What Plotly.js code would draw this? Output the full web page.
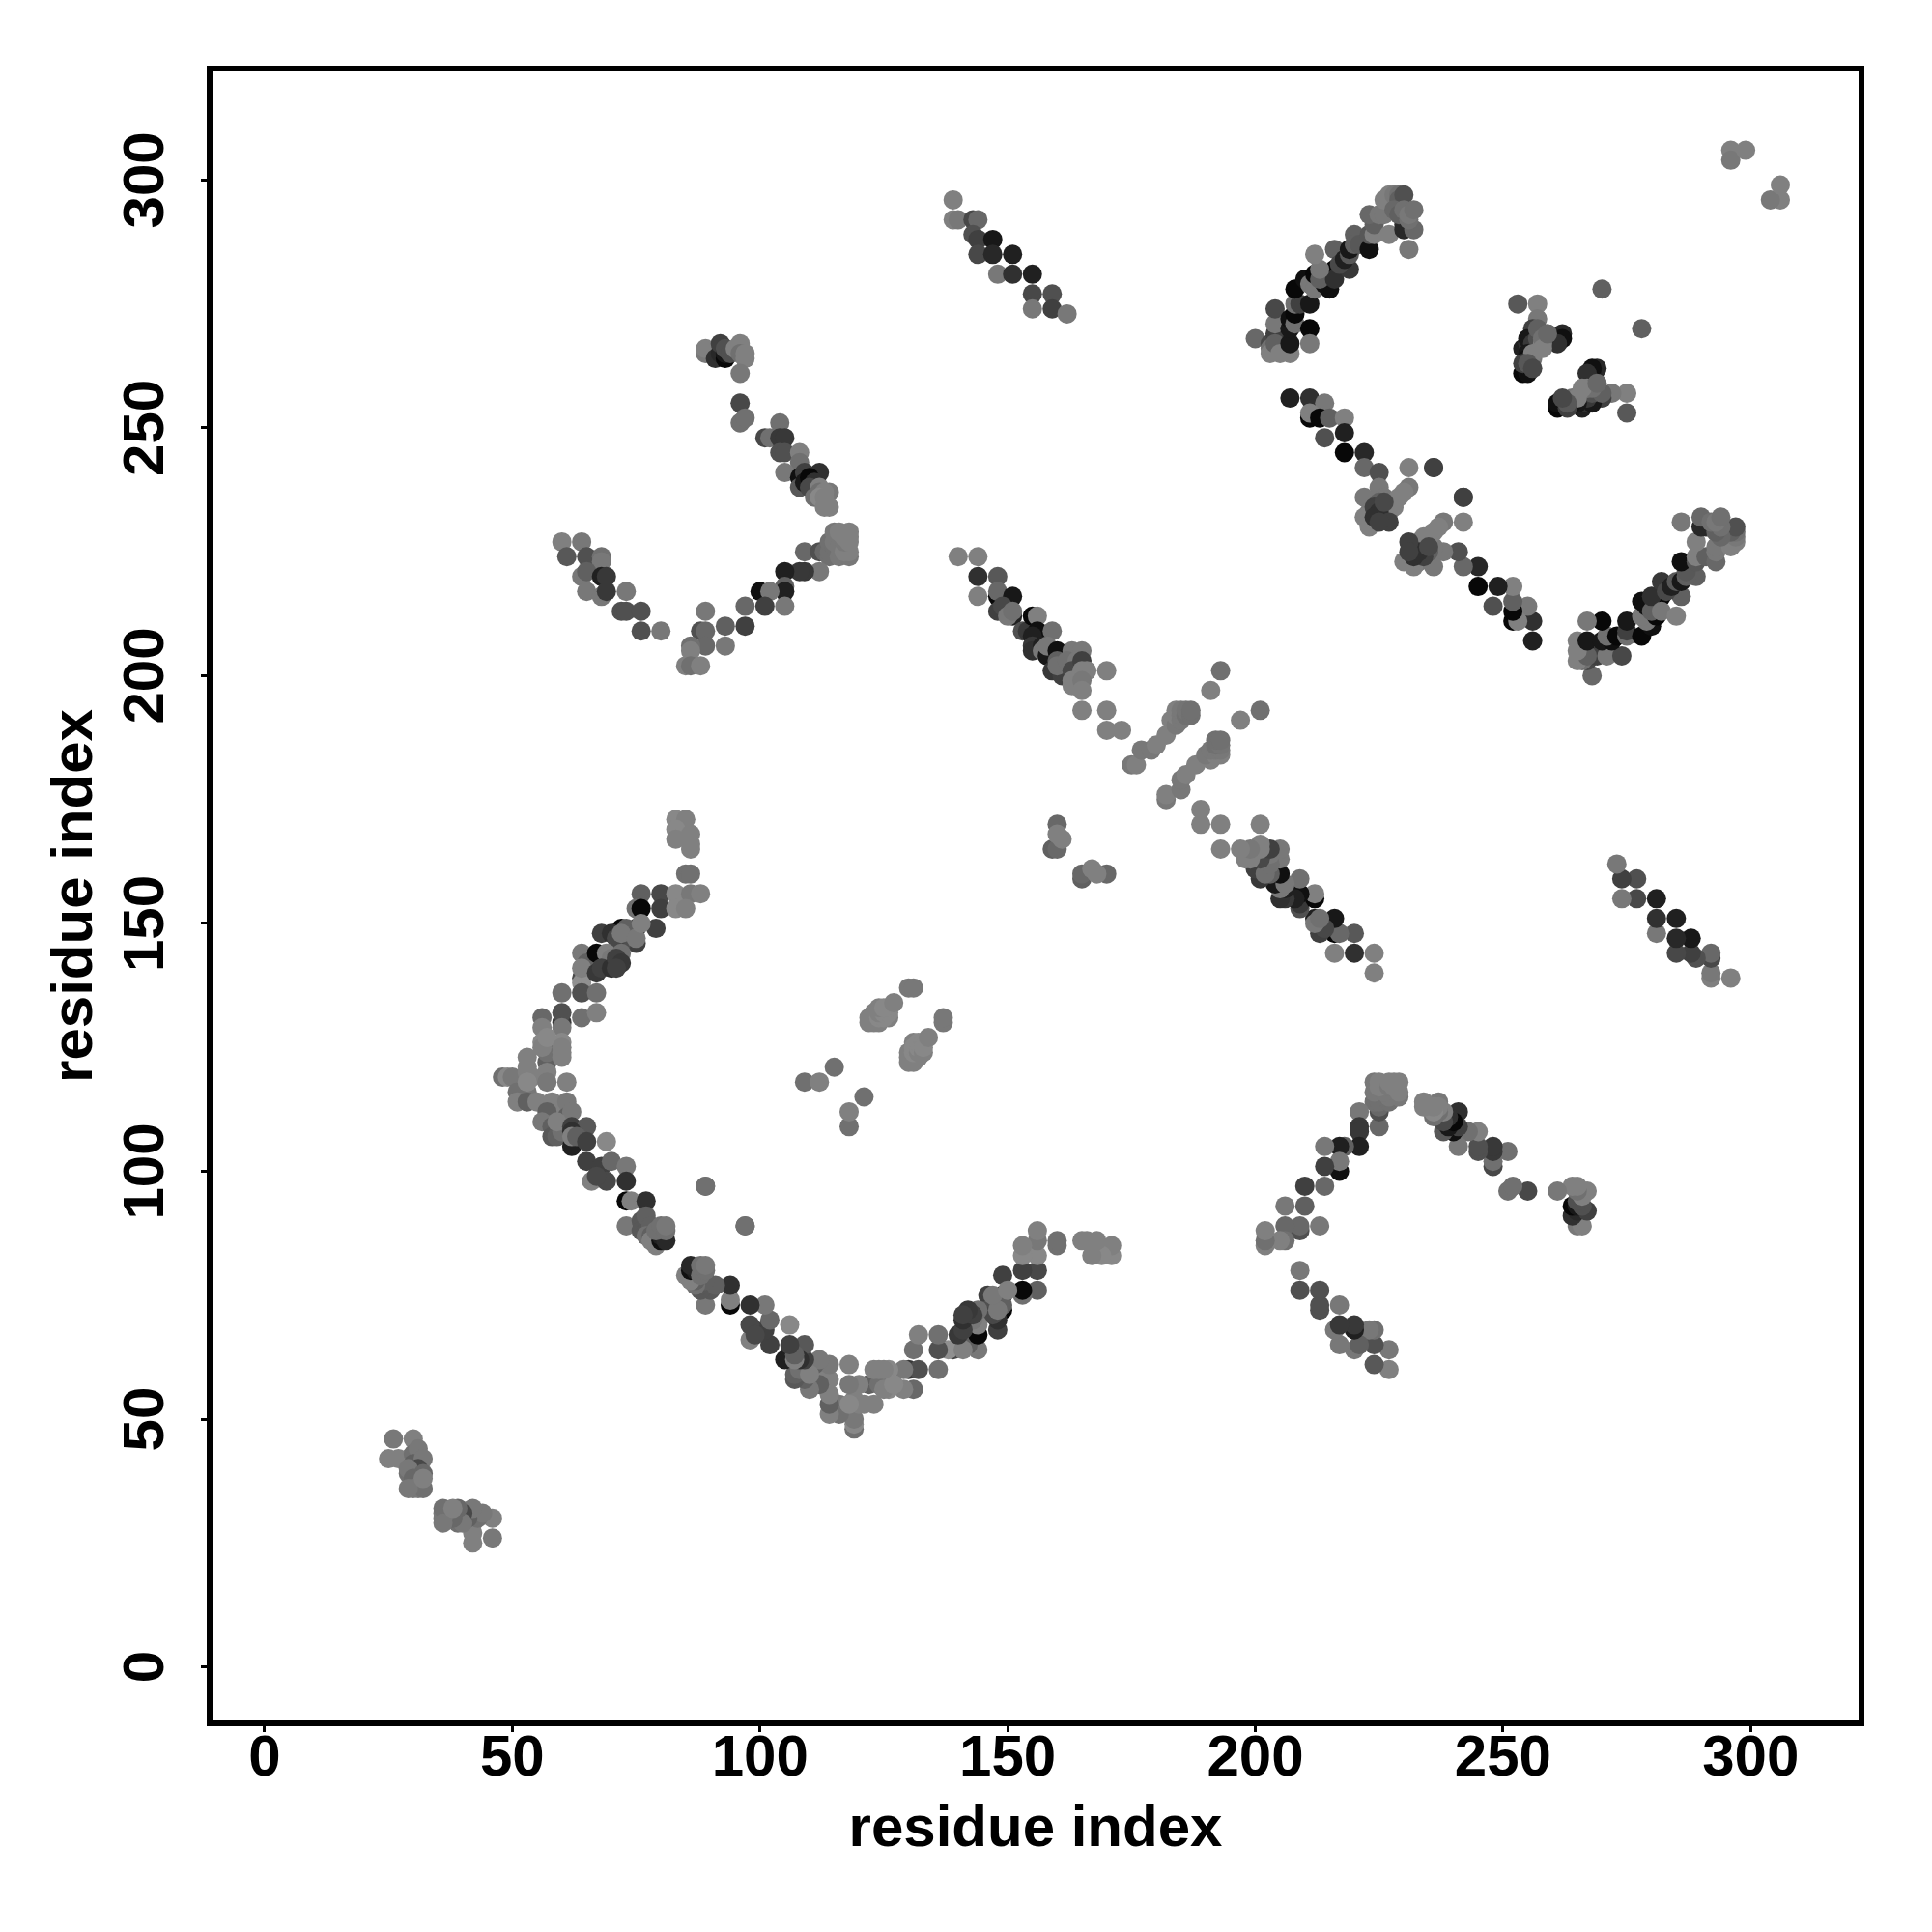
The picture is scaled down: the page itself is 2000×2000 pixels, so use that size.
<!DOCTYPE html>
<html><head><meta charset="utf-8">
<script src="https://cdn.plot.ly/plotly-3.0.1.min.js"></script>
<style>html,body{margin:0;padding:0;background:#fff}</style></head>
<body><div id="chart" style="width:2000px;height:2000px"></div>
<script>
// Each contact: [residue i, residue j, grey level]. The map is symmetric, so one half is read and mirrored.
const leftArm=[[83,171,136],[85,171,128],[83,169,136],[83,167,128],[86,168,128],[86,166,128],[86,165,128],[85,160,112],[86,160,112],
[76,156,96],[80,156,72],[83,156,136],[86,156,120],[88,156,128],[75,153,112],[76,153,8],[80,153,64],[83,153,136],[85,153,128],
[68,148,64],[72,149,8],[75,149,8],[79,149,64],[75,146,64],[72,146,80],[70,148,48],[71,147,72],[74,148,96],[73,149,96],[72,148,120],[75,147,120],[76,150,128],
[64,144,120],[65,142,96],[67,144,8],[69,144,128],[70,143,120],[72,144,112],[64,139,72],[64,138,144],[64,141,128],[67,140,56],[68,141,64],[70,141,48],[71,143,64],[72,142,56],[71,141,64],
[60,136,112],[64,136,80],[67,136,112],[56,131,104],[60,130,56],[60,132,80],[64,131,112],[67,132,128],
[56,129,128],[60,129,120],[57,122,96],[57,124,112],[56,126,136],[60,126,136],[56,125,128],[57,127,136],[60,125,128],[60,124,128],[60,123,128],[53,123,128],
[48,119,112],[49,119,136],[50,119,120],[52,116,120],[53,121,128],[53,116,120],[51,116,112],[54,119,128],[53,120,128],[53,118,136],[57,120,128],[57,118,120],[61,118,128],
[51,114,128],[53,114,96],[55,114,128],[58,114,128],[60,113,128],[61,114,120],[57,112,96],[61,111,96],[62,112,120],[56,110,120],[58,109,96],[58,107,88],[59,107,96],[60,108,112],[59,110,128],[62,109,64],[65,109,88],
[62,105,32],[62,108,48],[62,107,128],[63,107,96],[65,106,64],[69,106,136],[65,102,64],[68,101,64],[70,102,104],[73,101,120],[66,98,128],[69,98,72],[67,99,72],[73,98,48],
[73,94,8],[74,94,128],[77,94,48],[73,89,120],[76,90,88],[76,88,88],[77,88,88],[77,91,96],[78,89,96],[77,87,112],[78,87,96],[79,85,128],[78,86,128],[80,86,16],[80,87,32],[81,86,40],[79,88,112],[80,89,112],[81,88,112],[81,89,120],
[89,97,112],[97,89,112]];
const smallCluster=[[26,46,120],[30,46,128],[25,42,128],[27,42,128],[29,42,128],[30,43,112],[31,44,120],[30,41,96],[32,42,120],[29,39,112],[31,40,72],[29,40,120],[32,39,104],[30,38,104],[30,36,120],[31,36,120],[32,36,112],[29,36,120],[32,38,128]];
const centerBlob=[[109,118,112],[112,118,128],[115,121,112],[122,130,128],[122,131,128],[123,130,128],[123,131,128],[124,130,128],[126,131,128],[123,132,128],[124,131,136],[125,131,136],[124,132,128],[125,132,136],[126,132,136],[124,133,128],[126,133,136],[125,133,136],[127,134,128],[130,137,120],[131,137,120]];
const upperStrand=[[89,265,120],[89,266,128],[91,264,48],[92,265,40],[93,264,8],[92,267,64],[93,265,24],[93,266,80],[94,265,80],[95,266,128],[96,267,128],[96,265,112],[97,264,128],[97,265,128],[96,261,120],[96,255,72],[96,251,112],[97,252,112],
[101,248,72],[102,248,112],[104,251,112],[104,248,56],[105,248,56],[104,245,80],[105,245,80],[108,245,128],[108,243,112],
[105,241,120],[108,240,16],[109,241,64],[112,241,48],[108,238,88],[109,239,24],[110,240,8],[111,239,48],[110,238,72],[112,238,128],[112,237,112],[111,236,112],[114,237,120],[113,237,128],[112,236,136],[113,236,128],[113,234,128],[114,234,128]];
const upperApex=[[109,225,104],[112,225,80],[113,225,104],[114,224,112],[114,225,112],[114,227,112],[115,229,120],[115,226,112],[115,227,120],[116,224,120],[116,226,120],[118,224,120],[117,225,128],[118,225,128],[117,227,120],[118,227,128],[117,228,128],[118,228,128],[116,229,128],[118,229,128],
[112,221,120],[109,221,56],[108,221,56],[105,221,32],[105,218,96],[105,217,32],[105,214,120],[100,217,16],[102,217,120],[101,214,64],
[97,214,104],[97,210,64],[93,210,96],[93,206,120],[89,213,120],[88,209,80],[89,209,104],[89,206,104],[86,206,112],[86,205,128],[85,202,128],[86,202,112],[88,202,128]];
const upperLeftWing=[[60,227,128],[64,227,120],[61,224,88],[65,224,80],[68,224,112],[68,223,120],[64,220,120],[65,221,96],[68,220,32],[69,220,56],
[65,217,120],[68,216,120],[69,217,56],[73,217,120],[72,213,80],[73,213,80],[76,213,80],[76,209,80],[80,209,120]];
const diagonalBand=[[140,224,128],[144,224,128],[144,220,48],[148,220,88],[144,216,128],[148,216,8],[148,217,104],[151,216,24],[148,213,64],[149,214,72],[151,212,32],[150,212,120],[151,213,112],
[153,209,80],[154,209,56],[155,212,8],[156,212,128],[156,209,16],[155,208,32],[155,206,56],[159,209,112],[155,205,48],[157,206,32],[157,205,120],[158,204,24],[158,206,120],[160,205,16],[159,201,56],[161,200,64],[160,203,96],[160,202,112],
[163,205,120],[165,205,120],[162,203,112],[164,203,120],[163,201,72],[165,203,64],[165,201,128],[166,201,128],[170,201,128],[163,199,128],[163,198,128],[165,199,120],[165,197,128],
[165,193,128],[170,193,128],[170,189,128],[173,189,128],[175,182,120],[176,182,128],[177,185,120],[179,185,120],[180,186,128],[182,188,128],
[183,191,128],[184,190,120],[184,192,128],[184,193,128],[185,191,120],[185,192,120],[185,193,120],[186,192,112],[186,193,116],[187,192,112],[187,193,112],[191,197,128],[193,201,112],[160,170,104],[159,165,96],[160,165,104],[160,168,128],[161,167,128]];
const upperLine=[[139,296,128],[139,292,128],[140,292,120],[143,292,72],[144,292,104],[143,289,80],[144,288,64],[144,285,72],[147,288,24],[147,285,40],[151,285,32],
[148,281,120],[151,281,48],[155,281,32],[155,277,72],[159,277,80],[155,274,120],[159,274,64],[162,273,120]];
const topArm=[[200,268,104],[203,267,72],[203,266,112],[203,265,128],[204,269,64],[204,267,96],[205,265,128],[204,271,120],[204,274,72],[207,265,128],[207,267,24],[207,270,24],[207,272,16],[208,271,112],[211,270,8],[211,267,120],
[208,273,8],[208,275,112],[209,275,64],[211,275,24],[208,278,8],[210,280,16],[211,279,120],[212,278,120],[215,278,16],[214,279,16],[212,281,8],[213,280,96],[216,282,8],[216,280,48],[219,282,56],[213,282,120],[212,285,128],
[216,286,96],[217,283,72],[218,284,32],[219,285,88],[219,286,24],[220,289,96],[220,287,96],[221,287,88],[223,286,16],[223,289,88],[224,289,128],[224,291,96],[227,289,128],[223,293,104],[225,293,120],[226,293,120],
[226,296,128],[227,297,128],[228,297,120],[229,297,112],[229,296,96],[230,297,80],[230,291,48],[230,290,40],[228,294,104],[229,293,96],[232,290,104],[230,294,112],[231,292,112],[231,293,120],[232,294,112],[231,286,120]];
const midLine=[[207,256,32],[211,256,48],[214,255,120],[211,252,8],[211,253,128],[213,252,8],[215,252,96],[218,252,128],[214,248,80],[218,249,32],[218,245,8],[222,245,40],
[222,242,104],[225,241,80],[231,242,128],[236,242,64],[231,238,120],[242,236,64],[225,238,120],[222,236,120],[226,236,120],[225,235,96],[228,234,128],[229,236,128],[230,237,128],[223,233,120],[226,232,128],[227,233,128],[228,235,128],[222,232,128],[223,230,128],[224,234,64],[225,233,48],[224,232,48],[227,231,64],[225,231,64],[226,235,72]];
const cornerCluster=[[270,278,96],[253,275,88],[257,275,128],[257,272,120],[256,269,72],[256,270,64],[259,269,112],[262,269,40],[261,268,32],[262,268,16],[261,267,48],[254,266,32],[255,267,48],[255,268,24],[256,267,56],[257,268,80],[257,270,96],[258,267,128],[258,268,112],[255,265,24],[255,264,16],[256,264,120],[256,265,128],[254,261,8],[255,261,16],[254,263,64],[255,263,88],[256,262,72],[258,266,128],[259,269,104]];
const farCorner=[[296,306,128],[296,304,120],[299,306,128]];
const regions=[leftArm,smallCluster,centerBlob,upperStrand,upperApex,upperLeftWing,diagonalBand,upperLine,topArm,midLine,cornerCluster,farCorner];
const tickValues=[0,50,100,150,200,250,300];
const axisLabel='residue index';

const half=regions.flat();
const xs=half.map(p=>p[0]).concat(half.map(p=>p[1]));
const ys=half.map(p=>p[1]).concat(half.map(p=>p[0]));
const colors=half.concat(half).map(p=>`rgb(${p[2]},${p[2]},${p[2]})`);
const tickFont={family:'"Liberation Sans",Arial,sans-serif',size:60,color:'#000',weight:700};
const axis={showgrid:false,zeroline:false,showline:true,mirror:true,linecolor:'#000',linewidth:6,ticks:'outside',ticklen:6,tickwidth:3,tickcolor:'#000',
  tickmode:'array',tickvals:tickValues,ticktext:tickValues.map(String),tickfont:tickFont,automargin:false};
Plotly.newPlot('chart',[{type:'scatter',mode:'markers',x:xs,y:ys,marker:{size:20,color:colors,line:{width:0}},hoverinfo:'skip'}],{
  width:2000,height:2000,showlegend:false,paper_bgcolor:'#fff',plot_bgcolor:'#fff',
  margin:{l:220,r:76,t:74,b:219,pad:0},
  xaxis:Object.assign({},axis,{range:[-10.53,321.8],ticklabelstandoff:-27,title:{text:axisLabel,font:tickFont,standoff:21}}),
  yaxis:Object.assign({},axis,{range:[-10.8,321.9],tickangle:-90,ticklabelstandoff:15,ticklabelshift:9,title:{text:axisLabel,font:tickFont,standoff:2}})
},{displayModeBar:false,staticPlot:true});
</script></body></html>
